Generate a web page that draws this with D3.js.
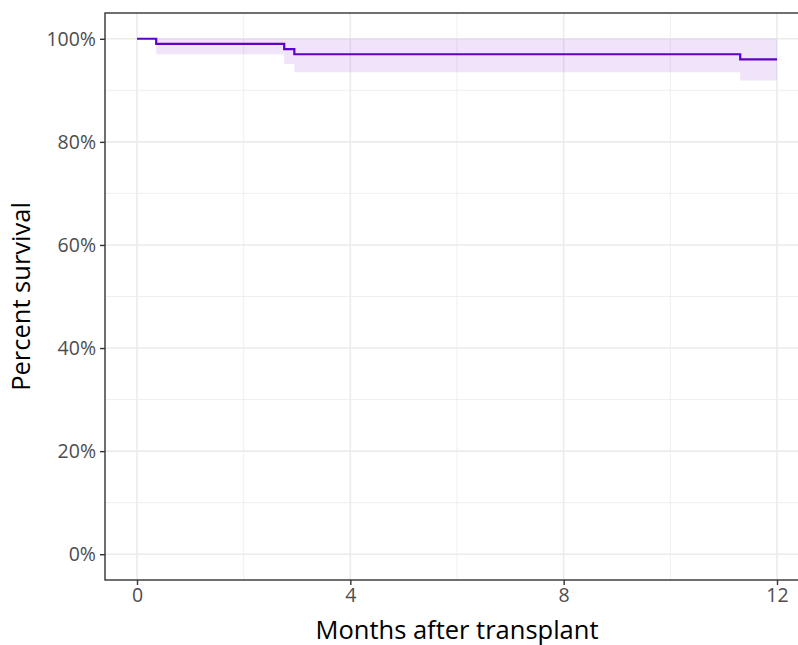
<!DOCTYPE html>
<html>
<head>
<meta charset="utf-8">
<script src="https://cdn.jsdelivr.net/npm/d3@7"></script>
<style>
  body { margin: 0; background: #fff; }
  text { font-family: "Open Sans", "Noto Sans", sans-serif; }
</style>
</head>
<body>
<div id="chart"></div>
<script>
// Kaplan-Meier estimate
var times = [0, 0.36, 2.76, 2.95, 11.31, 12];
var surv  = [1.00, 0.99, 0.98, 0.97, 0.96, 0.96];
var lower = [1.00, 0.970, 0.951, 0.935, 0.919, 0.919];
var upper = [1.00, 1.00, 1.00, 1.00, 1.00, 1.00];
var xTicks = [0, 4, 8, 12];
var xMinor = [2, 6, 10];
var yTicks = [0, 0.2, 0.4, 0.6, 0.8, 1.0];
var yMinor = [0.1, 0.3, 0.5, 0.7, 0.9];

var W = 798, H = 645;
var margin = {top: 13, right: -11, bottom: 65, left: 105};
var width = W - margin.left - margin.right,
    height = H - margin.top - margin.bottom;

var svg = d3.select("#chart").append("svg")
  .attr("width", W).attr("height", H);

var g = svg.append("g")
  .attr("transform", "translate(" + margin.left + "," + margin.top + ")");

// ggplot style 5% expansion
var x = d3.scaleLinear().domain([-0.6, 12.6]).range([0, width]);
var y = d3.scaleLinear().domain([-0.05, 1.05]).range([height, 0]);

// grid
g.selectAll(".xminor").data(xMinor).enter().append("line")
  .attr("x1", d => x(d)).attr("x2", d => x(d))
  .attr("y1", 0).attr("y2", height)
  .attr("stroke", "#ebebeb").attr("stroke-width", 0.8);
g.selectAll(".yminor").data(yMinor).enter().append("line")
  .attr("y1", d => y(d)).attr("y2", d => y(d))
  .attr("x1", 0).attr("x2", width)
  .attr("stroke", "#ebebeb").attr("stroke-width", 0.8);
g.selectAll(".xmajor").data(xTicks).enter().append("line")
  .attr("x1", d => x(d)).attr("x2", d => x(d))
  .attr("y1", 0).attr("y2", height)
  .attr("stroke", "#ebebeb").attr("stroke-width", 1.6);
g.selectAll(".ymajor").data(yTicks).enter().append("line")
  .attr("y1", d => y(d)).attr("y2", d => y(d))
  .attr("x1", 0).attr("x2", width)
  .attr("stroke", "#ebebeb").attr("stroke-width", 1.6);

var pts = times.map(function(t, i) {
  return {t: t, s: surv[i], lo: lower[i], hi: upper[i]};
});

// confidence band
var band = d3.area()
  .curve(d3.curveStepAfter)
  .x(d => x(d.t))
  .y0(d => y(d.lo))
  .y1(d => y(d.hi));
g.append("path").datum(pts)
  .attr("d", band)
  .attr("fill", "#6a0dcc")
  .attr("fill-opacity", 0.11);

// survival step line
var line = d3.line()
  .curve(d3.curveStepAfter)
  .x(d => x(d.t))
  .y(d => y(d.s));
g.append("path").datum(pts)
  .attr("d", line)
  .attr("fill", "none")
  .attr("stroke", "#6000c8")
  .attr("stroke-width", 2.2);

// panel border
g.append("rect")
  .attr("width", width).attr("height", height)
  .attr("fill", "none").attr("stroke", "#333333").attr("stroke-width", 1.4);

// axes
var xAxis = g.append("g")
  .attr("transform", "translate(0," + height + ")")
  .call(d3.axisBottom(x).tickValues(xTicks).tickSize(5).tickPadding(3));
var yAxis = g.append("g")
  .call(d3.axisLeft(y).tickValues(yTicks).tickFormat(d3.format(".0%")).tickSize(5).tickPadding(4));
[xAxis, yAxis].forEach(function(a) {
  a.select(".domain").remove();
  a.selectAll("line").attr("stroke", "#333333").attr("stroke-width", 1.4);
  a.selectAll("text").attr("fill", "#4d4d4d").style("font-size", "19.5px");
});

// titles
svg.append("text")
  .attr("x", margin.left + (x(12.6) - x(-0.6)) / 2)
  .attr("y", 639)
  .attr("text-anchor", "middle")
  .style("font-size", "25.5px")
  .attr("fill", "#000")
  .text("Months after transplant");
svg.append("text")
  .attr("transform", "translate(30," + (margin.top + height / 2) + ") rotate(-90)")
  .attr("text-anchor", "middle")
  .style("font-size", "25.5px")
  .attr("fill", "#000")
  .text("Percent survival");
</script>
</body>
</html>
